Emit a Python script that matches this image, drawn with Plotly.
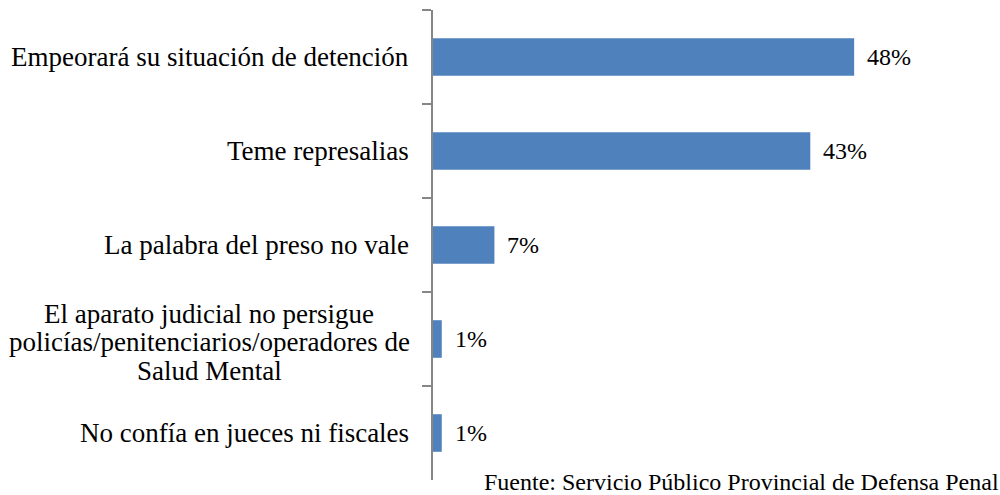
import plotly.graph_objects as go

categories = [
    "Empeorará su situación de detención",
    "Teme represalias",
    "La palabra del preso no vale",
    "El aparato judicial no persigue policías/penitenciarios/operadores de Salud Mental",
    "No confía en jueces ni fiscales",
]
category_lines = [
    ["Empeorará su situación de detención"],
    ["Teme represalias"],
    ["La palabra del preso no vale"],
    ["El aparato judicial no persigue", "policías/penitenciarios/operadores de", "Salud Mental"],
    ["No confía en jueces ni fiscales"],
]
values = [48, 43, 7, 1, 1]
value_labels = ["48%", "43%", "7%", "1%", "1%"]
source = "Fuente: Servicio Público Provincial de Defensa Penal"

FONT = "Liberation Serif, Times New Roman, serif"

fig = go.Figure(go.Bar(
    x=values,
    y=categories,
    orientation="h",
    width=0.4,
    marker=dict(color="#4F81BD", line=dict(width=0)),
    hoverinfo="x+y",
))

# category labels (multi-line ones centered on their block)
LINE_H = 28.5
for c, lines in zip(categories, category_lines):
    n = len(lines)
    for i, ln in enumerate(lines):
        off = (i - (n - 1) / 2) * LINE_H
        if n > 1:
            anchor, xs, ys = "center", -224, -off - 3
        else:
            anchor, xs, ys = "right", -22, 0
        fig.add_annotation(
            x=0, xref="paper", y=c, yref="y",
            text=ln, showarrow=False, xanchor=anchor, yanchor="middle",
            xshift=xs, yshift=ys,
            font=dict(family=FONT, size=27, color="#000000"),
        )

# value labels
for c, v, t in zip(categories, values, value_labels):
    fig.add_annotation(
        x=v, xref="x", y=c, yref="y", text=t, showarrow=False,
        xanchor="left", yanchor="middle", xshift=11,
        font=dict(family=FONT, size=24, color="#000000"),
    )

fig.add_annotation(
    x=1, xref="paper", y=0, yref="paper", text=source, showarrow=False,
    xanchor="right", yanchor="middle", xshift=24, yshift=-2,
    font=dict(family=FONT, size=24, color="#000000"),
)

fig.update_layout(
    width=1000, height=495,
    margin=dict(l=433, r=23, t=10, b=15),
    paper_bgcolor="white", plot_bgcolor="white",
    showlegend=False,
    xaxis=dict(range=[0, 62], showgrid=False, zeroline=False, showline=False,
               showticklabels=False, ticks=""),
    yaxis=dict(autorange="reversed", showgrid=False, zeroline=False,
               showline=True, linecolor="#868686", linewidth=1.5,
               ticks="outside", tickson="boundaries", ticklen=9,
               tickcolor="#868686", tickwidth=1.5, showticklabels=False),
)

fig.write_html("out.html", config={"displayModeBar": False},
               post_script="document.body.style.margin='0px';")
